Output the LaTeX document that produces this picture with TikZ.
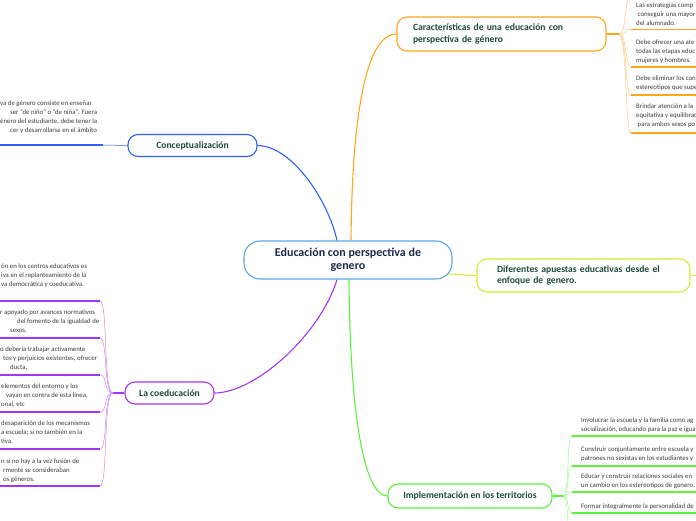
\documentclass[tikz,border=0pt]{standalone}
\usepackage{fontspec}
\setmainfont{Carlito}
\usetikzlibrary{calc,positioning,backgrounds}
\definecolor{cenblue}{HTML}{5AA8E8}
\definecolor{conblue}{HTML}{2D62F4}
\definecolor{carorange}{HTML}{FFA51F}
\definecolor{difyellow}{HTML}{D2EE34}
\definecolor{impgreen}{HTML}{5CF23C}
\definecolor{coepurple}{HTML}{A833F0}
\definecolor{titlegreen}{HTML}{1E4A3C}
\definecolor{cennavy}{HTML}{1D2A4C}
\definecolor{leaftext}{HTML}{3C3C3C}
\tikzset{
  topic/.style={draw,line width=1.1pt,rounded corners=10pt,fill=white,text=titlegreen,
    font=\fontsize{9.6}{11.5}\selectfont\bfseries,inner sep=0pt},
  leaf/.style={anchor=north west,inner sep=0pt,align=left,text=leaftext,
    font=\fontsize{6.8}{8.8}\selectfont},
  branch/.style={line width=1.1pt},
  twig/.style={line width=0.5pt},
  bar/.style={line width=1.6pt}
}

\begin{document}
\begin{tikzpicture}[x=1pt,y=-1pt]
	\useasboundingbox (0,0) rectangle (696,520);
	\clip (0,0) rectangle (696,520);

	\node[topic,draw=cenblue,text=cennavy,rounded corners=16pt,minimum width=208pt,minimum height=38pt,
		align=center,font=\fontsize{12}{12.7}\selectfont\bfseries] (cen) at (348,260)
		{Educación con perspectiva de\\genero};
	\node[topic,draw=conblue,minimum width=129pt,minimum height=22pt] (con) at (192.5,145.5) {Conceptualización};
	\node[topic,draw=carorange,align=left,text width=177pt,inner xsep=16pt,minimum height=34pt] (car) at (501.5,34)
		{Características de una educación con\\perspectiva de género};
	\node[topic,draw=difyellow,align=left,text width=173pt,inner xsep=20pt,minimum height=33pt] (dif) at (583.5,275.5)
		{Diferentes apuestas educativas desde el\\enfoque de genero.};
	\node[topic,draw=impgreen,minimum width=164pt,minimum height=24pt] (imp) at (470,496) {Implementación en los territorios};
	\node[topic,draw=coepurple,minimum width=89pt,minimum height=22pt] (coe) at (169.5,393) {La coeducación};

	% hojas
	\node[leaf] (conleaf) at (0,101) {va de género consiste en enseñar\\\hspace*{10pt}ser "de niño" o "de niña". Fuera\\énero del estudiante, debe tener la\\\hspace*{10pt}cer y desarrollarse en el ámbito};

	\node[leaf] (car1) at (636,2.7) {Las estrategias comp\\\hspace*{1.5pt}conseguir una mayor\\del alumnado.};
	\node[leaf] (car2) at (636,39.7) {Debe ofrecer una ate\\todas las etapas educ\\mujeres y hombres.};
	\node[leaf] (car3) at (636,76) {Debe eliminar los con\\estereotipos que supe};
	\node[leaf] (car4) at (636,104) {Brindar atención a la\\equitativa y equilibrad\\\hspace*{1.5pt}para ambos sexos po};

	\node[leaf] (imp1) at (581,418) {Involucrar la escuela y la familia como ag\\socialización, educando para la paz e igua};
	\node[leaf] (imp2) at (581,447) {Construir conjuntamente entre escuela y\\patrones no sexistas en los estudiantes y};
	\node[leaf] (imp3) at (581,474) {Educar y construir relaciones sociales en\\un cambio en los estereotipos de genero.};
	\node[leaf] (imp4) at (581,504) {Formar integralmente la personalidad de};

	\node[leaf] (coe1) at (1,264) {ón en los centros educativos es\\iva en el replanteamiento de la\\va democrática y coeducativa.};
	\node[leaf] (coe2) at (0,310) {r apoyado por avances normativos\\\hspace*{17pt}del fomento de la igualdad de\\\hspace*{10pt}sexos.};
	\node[leaf] (coe3) at (0,347) {o debería trabajar activamente\\\hspace*{3pt}tos y perjuicios existentes, ofrecer\\\hspace*{10pt}ducta,};
	\node[leaf] (coe4) at (1,384) {elementos del entorno y los\\\hspace*{5pt}vayan en contra de esta línea,\\onal, etc};
	\node[leaf] (coe5) at (1,421) {desaparición de los mecanismos\\a escuela; si no también en la\\tiva.};
	\node[leaf] (coe6) at (1,459) {n si no hay  a la vez fusión de\\\hspace*{2pt}rmente se consideraban\\\hspace*{2pt}os géneros.};

	\begin{scope}[on background layer]
		\clip (0,0) rectangle (696,520);
		\draw[branch,conblue] ([xshift=-11pt]cen.north) .. controls (328,200) and (292,146) .. (con.east);
		\draw[branch,carorange] ([xshift=3pt]cen.north) .. controls (352,120) and (365,34) .. (car.west);
		\draw[branch,difyellow] ([xshift=-8pt,yshift=-14pt]cen.east) .. controls (462,274) and (466,275.5) .. (dif.west);
		\draw[branch,impgreen] ([xshift=1pt]cen.south) .. controls (350,420) and (365,496) .. (imp.west);
		\draw[branch,coepurple] ([xshift=-11pt]cen.south) .. controls (320,335) and (255,393) .. (coe.east);

		\coordinate (conhub) at (103,145);
		\coordinate (conend) at (-5,145);
		\draw[twig,conblue] (con.west) -- (conhub);
		\draw[bar,conblue] (conhub) -- (conend);

		\coordinate (carhub) at (619,34);
		\draw[branch,carorange] (car.east) -- (carhub);
		\foreach \i/\y in {0/-9,1/29.3,2/66.7,3/95,4/133} {
			\coordinate (carend\i) at (631,\y);
			\draw[twig,carorange!60] (carhub) .. controls ($(carhub)+(8,0)$) and ($(carend\i)+(-6,0)$) .. (carend\i);
			\draw[bar,carorange] (carend\i) -- ++(80,0);
		}

		\coordinate (difend) at (700,275.5);
		\draw[branch,difyellow] (dif.east) -- (difend);

		\coordinate (imphub) at (563,496);
		\draw[branch,impgreen] (imp.east) -- (imphub);
		\foreach \i/\y in {1/436,2/466,3/492,4/513,5/545} {
			\coordinate (impend\i) at (572,\y);
			\draw[twig,impgreen!60] (imphub) .. controls ($(imphub)+(7,0)$) and ($(impend\i)+(-6,0)$) .. (impend\i);
			\draw[bar,impgreen] (impend\i) -- ++(140,0);
		}

		\coordinate (coehub) at (113,393);
		\draw[branch,coepurple] (coe.west) -- (coehub);
		\foreach \i/\y in {1/301,2/338,3/375,4/412,5/449,6/486} {
			\coordinate (coeend\i) at (100,\y);
			\draw[twig,coepurple!60] (coehub) .. controls ($(coehub)+(-10,0)$) and ($(coeend\i)+(8,0)$) .. (coeend\i);
			\draw[bar,coepurple] (coeend\i) -- ++(-110,0);
		}
	\end{scope}
\end{tikzpicture}
\end{document}
